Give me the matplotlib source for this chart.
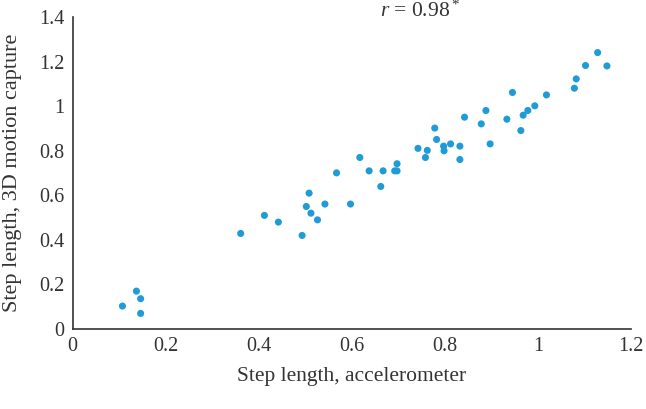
import matplotlib
matplotlib.use("Agg")
import matplotlib.pyplot as plt

# Step length data (accelerometer vs 3D motion capture)
accel = [0.107, 0.137, 0.146, 0.146,
         0.361, 0.412, 0.442, 0.493, 0.502, 0.508, 0.512, 0.526, 0.542, 0.567,
         0.597, 0.617, 0.637, 0.662, 0.667, 0.692, 0.697, 0.697, 0.742, 0.758,
         0.762, 0.778, 0.782, 0.797, 0.798, 0.812, 0.832, 0.832, 0.842, 0.878,
         0.888, 0.897, 0.933, 0.945, 0.963, 0.968, 0.978, 0.993, 1.018, 1.078,
         1.082, 1.102, 1.128, 1.148]
mocap = [0.103, 0.170, 0.136, 0.070,
         0.429, 0.510, 0.480, 0.420, 0.550, 0.610, 0.520, 0.490, 0.561, 0.701,
         0.561, 0.770, 0.710, 0.640, 0.710, 0.710, 0.742, 0.710, 0.811, 0.770,
         0.802, 0.902, 0.851, 0.821, 0.800, 0.831, 0.821, 0.761, 0.951, 0.921,
         0.981, 0.831, 0.942, 1.062, 0.891, 0.960, 0.981, 1.002, 1.051, 1.081,
         1.123, 1.183, 1.241, 1.181]

x_ticks = [0, 0.2, 0.4, 0.6, 0.8, 1, 1.2]
x_tick_labels = ["0", "0.2", "0.4", "0.6", "0.8", "1", "1.2"]
y_ticks = [0, 0.2, 0.4, 0.6, 0.8, 1, 1.2, 1.4]
y_tick_labels = ["0", "0.2", "0.4", "0.6", "0.8", "1", "1.2", "1.4"]

plt.rcParams['font.family'] = ['Liberation Serif', 'DejaVu Serif']
plt.rcParams['mathtext.fontset'] = 'custom'
plt.rcParams['mathtext.rm'] = 'Liberation Serif'
plt.rcParams['mathtext.it'] = 'Liberation Serif:italic'

fig = plt.figure(figsize=(6.46, 4.09), dpi=100)
ax = fig.add_axes([0.1125, 0.1956, 0.8645, 0.7624])

ax.scatter(accel, mocap, s=26, color='#1f9bd7', edgecolors='none', zorder=3)

ax.set_xlim(0, 1.2)
ax.set_ylim(0, 1.4)
ax.set_xticks(x_ticks)
ax.set_xticklabels(x_tick_labels)
ax.set_yticks(y_ticks)
ax.set_yticklabels(y_tick_labels)
ax.tick_params(axis='both', length=0, labelsize=14.5, colors='#333333')
ax.tick_params(axis='x', pad=6)
ax.tick_params(axis='y', pad=6)

for side in ['top', 'right']:
    ax.spines[side].set_visible(False)
for side in ['left', 'bottom']:
    ax.spines[side].set_color('#333333')
    ax.spines[side].set_linewidth(1.2)

ax.set_xlabel('Step length, accelerometer', fontsize=15.5, color='#333333')
ax.set_ylabel('Step length, 3D motion capture', fontsize=16, color='#333333')
ax.xaxis.label.set_va('center')
ax.yaxis.label.set_va('center')
ax.xaxis.set_label_coords(0.5, -0.153)
ax.yaxis.set_label_coords(-0.107, 0.5)

fig.text(420 / 646, 1 - 11 / 409, r'$r$ = 0.98$^*$', fontsize=15.5, color='#333333',
         ha='center', va='center')

fig.savefig('out.png', dpi=100)
